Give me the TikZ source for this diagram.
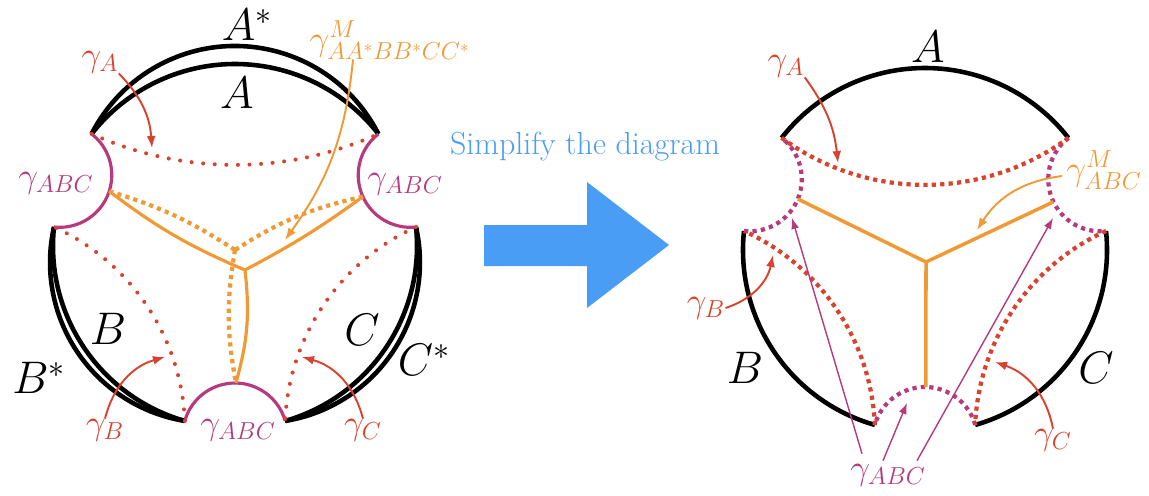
\RequirePackage{fix-cm}
\documentclass[tikz,border=0pt]{standalone}
\usetikzlibrary{arrows.meta,calc}
\definecolor{ArcRed}{HTML}{D8432E}
\definecolor{ArcOrange}{HTML}{F09A36}
\definecolor{ArcPurple}{HTML}{B53A7E}
\definecolor{ArcBlue}{HTML}{4A9DF5}

\begin{document}
\begin{tikzpicture}[x=0.02cm,y=0.02cm,
    bdry/.style={line width=2.6pt},
    gapline/.style={ArcPurple,line width=1.8pt},
    gapdot/.style={ArcPurple,line width=2.4pt,dash pattern=on 2.4pt off 2.4pt},
    geod/.style={ArcRed,line width=2.3pt,line cap=round,dash pattern=on 0pt off 6.6pt},
    geodsq/.style={ArcRed,line width=2.4pt,dash pattern=on 2.4pt off 2.4pt},
    web/.style={ArcOrange,line width=1.8pt},
    webdot/.style={ArcOrange,line width=2.4pt,dash pattern=on 2.4pt off 2.4pt},
    ptr/.style={-{Latex[length=2.4mm,width=1.8mm]},line width=1.1pt},
    thinptr/.style={ArcPurple,-{Latex[length=2.2mm,width=1.6mm]},line width=0.8pt},
    big/.style={font=\fontsize{26}{30}\selectfont,inner sep=0pt},
    lab/.style={font=\fontsize{20}{24}\selectfont,inner sep=0pt}
  ]
  \useasboundingbox (0,0) rectangle (1149,495);
  \coordinate (O1) at (235,249);
  \coordinate (O2) at (925,245);

  % left: regions A, B, C and A*, B*, C*
  \foreach \a/\b in {38/142,174/254,286/366}
    \draw[bdry] (O1) ++(\a:182) arc[start angle=\a,end angle=\b,radius=182];
  \draw[bdry] (O1) ++(90:39.1) ++(27:160.9) arc[start angle=27,end angle=153,radius=160.9];
  \draw[bdry] (O1) ++(214:29.4) ++(167.2:160.6) arc[start angle=167.2,end angle=260.8,radius=160.6];
  \draw[bdry] (O1) ++(326:29.4) ++(279.2:160.6) arc[start angle=279.2,end angle=372.8,radius=160.6];

  % left: gamma_ABC pieces
  \foreach \g/\s in {158/263.9,270/15.9,22/127.9}
    \draw[gapline] (O1) ++(\g:189.2) coordinate (g\g) ++(\s:52.2) arc[start angle=\s,delta angle=148.2,radius=52.2];

  % left: gamma_A, gamma_B, gamma_C
  \draw[geod] (O1) ++(90:428.3) ++(245.6:347.2) arc[start angle=245.6,end angle=294.4,radius=347.2];
  \draw[geod] (O1) ++(214:330.3) ++(2.5:223.9) arc[start angle=2.5,end angle=65.5,radius=223.9];
  \draw[geod] (O1) ++(326:330.3) ++(114.5:223.9) arc[start angle=114.5,end angle=177.5,radius=223.9];

  % left: the two webs
  \coordinate (pL) at ($(g158)+(-18:52.2)$);
  \coordinate (pR) at ($(g22)+(204.4:52.2)$);
  \coordinate (pB) at ($(g270)+(89:52.2)$);
  \coordinate (j1) at (245,225);
  \coordinate (j1d) at (235,245);
  \draw[webdot] (pL) to[bend left=8] (j1d);
  \draw[webdot] (pR) to[bend right=10] (j1d);
  \draw[webdot] (j1d) to[bend right=10] (pB);
  \draw[web] (pL) to[bend right=7] (j1);
  \draw[web] (pR) to[bend left=4] (j1);
  \draw[web] (j1) to[bend left=11] (pB);

  % left: labels
  \node[big] (A1s) at (247,470) {$A^*$};
  \node[big] (A1) at (237,402) {$A$};
  \node[big] (B1) at (108,166) {$B$};
  \node[big] (B1s) at (39,117) {$B^*$};
  \node[big] (C1) at (362,165) {$C$};
  \node[big] (C1s) at (424,135) {$C^*$};
  \node[lab,ArcRed] (gA1) at (100,433) {$\gamma_A$};
  \node[lab,ArcRed] (gB1) at (105,65) {$\gamma_B$};
  \node[lab,ArcRed] (gC1) at (363,65) {$\gamma_C$};
  \node[lab,ArcPurple] (gL1) at (56,312) {$\gamma_{ABC}$};
  \node[lab,ArcPurple] (gR1) at (405,311) {$\gamma_{ABC}$};
  \node[lab,ArcPurple] (gD1) at (238,65) {$\gamma_{ABC}$};
  \node[lab,ArcOrange] (gM1) at (390,455) {$\gamma^M_{AA^*BB^*CC^*}$};

  \coordinate (tA1) at (152,347);
  \coordinate (tB1) at (165,138);
  \coordinate (tC1) at (302,138);
  \coordinate (tM1) at (285,255);
  \draw[ptr,ArcRed] (gA1.south east) to[bend left=20] (tA1);
  \draw[ptr,ArcRed] (gB1.north) to[bend left=30] (tB1);
  \draw[ptr,ArcRed] (gC1.north) to[bend right=30] (tC1);
  \draw[ptr,ArcOrange] ($(gM1.south)+(-37,0)$) to[bend left=15] (tM1);

  % middle: simplify
  \fill[ArcBlue] (484,229) -- (587,229) -- (587,187) -- (669,250) -- (587,313) -- (587,270) -- (484,270) -- cycle;
  \node[ArcBlue,font=\fontsize{18.2}{21}\selectfont,inner sep=0pt] (simp) at (585,348) {Simplify the diagram};

  % right: regions A, B, C
  \foreach \a/\b in {38/142,174/254,286/366}
    \draw[bdry] (O2) ++(\a:182) arc[start angle=\a,end angle=\b,radius=182];
  \foreach \g/\s in {158/263.9,270/15.9,22/127.9}
    \draw[gapdot] (O2) ++(\g:189.2) coordinate (h\g) ++(\s:52.2) arc[start angle=\s,delta angle=148.2,radius=52.2];
  \draw[geodsq] (O2) ++(90:307.4) ++(233.7:242.3) arc[start angle=233.7,end angle=306.3,radius=242.3];
  \draw[geodsq] (O2) ++(214:330.3) ++(2.5:223.9) arc[start angle=2.5,end angle=65.5,radius=223.9];
  \draw[geodsq] (O2) ++(326:330.3) ++(114.5:223.9) arc[start angle=114.5,end angle=177.5,radius=223.9];

  % right: web
  \coordinate (qL) at ($(h158)+(-22.4:52.2)$);
  \coordinate (qR) at ($(h22)+(205.8:52.2)$);
  \coordinate (qB) at ($(h270)+(89:52.2)$);
  \coordinate (j2) at (926,233);
  \draw[web,line width=2pt] (qL) -- (j2) -- (qR);
  \draw[web,line width=2pt] (j2) -- (qB);

  % right: labels
  \node[big] (A2) at (928,448) {$A$};
  \node[big] (B2) at (745,127) {$B$};
  \node[big] (C2) at (1096,127) {$C$};
  \node[lab,ArcRed] (gA2) at (786,429) {$\gamma_A$};
  \node[lab,ArcRed] (gB2) at (706,187) {$\gamma_B$};
  \node[lab,ArcRed] (gC2) at (1053,55) {$\gamma_C$};
  \node[lab,ArcPurple] (gD2) at (888,20) {$\gamma_{ABC}$};
  \node[lab,ArcOrange] (gM2) at (1104,325) {$\gamma^M_{ABC}$};

  \coordinate (tA2) at (838,332);
  \coordinate (tB2) at (773,240);
  \coordinate (tC2) at (995,133);
  \coordinate (tM2) at (977,265);
  \coordinate (tL2) at (792,277);
  \coordinate (tD2) at (907,92);
  \coordinate (tR2) at (1053,277);
  \draw[ptr,ArcRed] (gA2.south east) to[bend left=15] (tA2);
  \draw[ptr,ArcRed] (gB2.east) to[bend right=30] (tB2);
  \draw[ptr,ArcRed] (gC2.north) to[bend right=30] (tC2);
  \draw[ptr,ArcOrange] ($(gM2.west)+(-4,-6)$) to[bend right=25] (tM2);
  \draw[thinptr] ($(gD2.north)+(-26,10)$) -- (tL2);
  \draw[thinptr] ($(gD2.north)+(-5,3)$) -- (tD2);
  \draw[thinptr] ($(gD2.north)+(29,3)$) -- (tR2);
\end{tikzpicture}
\end{document}
